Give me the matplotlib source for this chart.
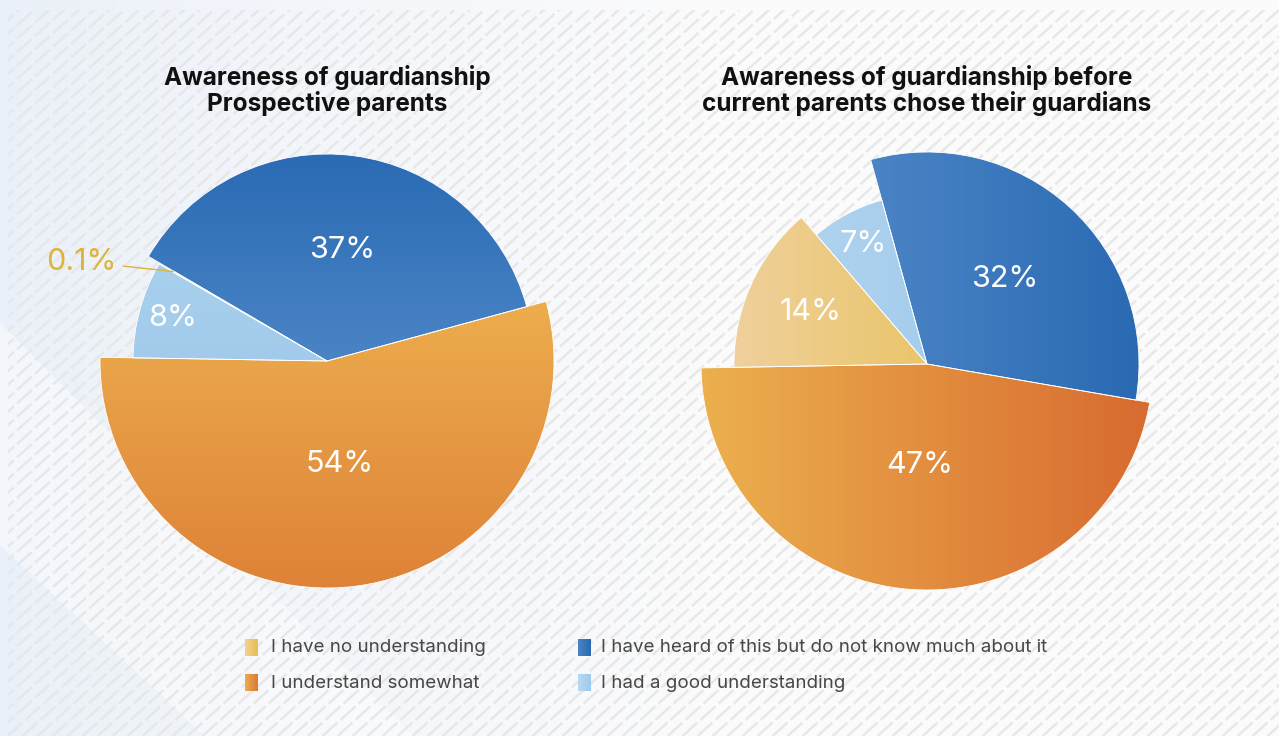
import numpy as np
import matplotlib
matplotlib.use("Agg")
import matplotlib.pyplot as plt
from matplotlib.collections import LineCollection
from matplotlib.colors import to_rgb
from matplotlib.patches import Polygon, Rectangle

plt.rcParams["font.family"] = ["Inter", "DejaVu Sans"]

W, H = 1279, 736

# ---- data ----
categories = [
    "I have no understanding",
    "I understand somewhat",
    "I have heard of this but do not know much about it",
    "I had a good understanding",
]
prospective = [0.1, 54, 37, 8]
current = [14, 47, 32, 7]
titles = [
    "Awareness of guardianship\nProspective parents",
    "Awareness of guardianship before\ncurrent parents chose their guardians",
]

# ---- styling per pie (pixel units, y measured from the top) ----
charts = [
    dict(values=prospective, center=(327, 361), start=150, order=[0, 2, 1, 3],
         radii=[178, 227, 207, 194], label_r=[None, 104, 112, 160],
         fills=[("#e9c45c", "#e6c055", "h"), ("#edad4d", "#de8238", "v"),
                ("#2a6bb4", "#4a84c5", "v"), ("#a8d0ee", "#a2caea", "v")]),
    dict(values=current, center=(927, 364), start=181, order=[0, 3, 2, 1],
         radii=[193, 226, 212, 170], label_r=[128, 101, 115, 136],
         fills=[("#f0d09c", "#e9c56a", "h"), ("#ecb04e", "#d86b30", "h"),
                ("#4a84c5", "#2a6ab3", "h"), ("#afd3ef", "#a5cdec", "h")]),
]
legend_fills = [("#f1d198", "#e8bf4f"), ("#ecab4c", "#dc7a36"),
                ("#4a84c5", "#2a69b2"), ("#b8d9f1", "#9fcaec")]


def Y(y):
    return H - y


def gradient(c0, c1, direction, n=256):
    a, b = np.array(to_rgb(c0)), np.array(to_rgb(c1))
    t = np.linspace(0, 1, n)[:, None]
    g = a + (b - a) * t
    if direction == "h":
        return g[None, :, :]
    return g[:, None, :]


fig = plt.figure(figsize=(W / 100, H / 100), dpi=100)
ax = fig.add_axes([0, 0, 1, 1])

# background wash
xs = np.clip(np.linspace(0, 1, W) / 0.55, 0, 1) ** 0.8
c_left, c_right = np.array(to_rgb("#eaf0f9")), np.array(to_rgb("#fbfbfc"))
bg = c_left + (c_right - c_left) * xs[:, None]
ax.imshow(np.repeat(bg[None, :, :], 2, axis=0), extent=(0, W, 0, H),
          aspect="auto", zorder=0)
ax.add_patch(Polygon([(0, Y(323)), (413, Y(736)), (205, Y(736)), (0, Y(545))],
                     closed=True, facecolor="white", edgecolor="none",
                     alpha=0.45, zorder=0.5))

# diagonal dashed texture
ang = np.deg2rad(42)
run = H / np.tan(ang)
segs = [[(x0, 0), (x0 + run, H)] for x0 in np.arange(-run, W + 15, 15)]
hatch = LineCollection(segs, colors="#e6e6e6", linewidths=1.8,
                       linestyles=[(0, (8.0, 1.7))], alpha=0.9, zorder=1)
clip = Rectangle((8, 0), W, Y(10), transform=ax.transData)
ax.add_collection(hatch)
hatch.set_clip_path(clip)

for ch, title in zip(charts, titles):
    cx, cy = ch["center"][0], Y(ch["center"][1])
    order = ch["order"]
    vals = [ch["values"][i] for i in order]
    wedges, _ = ax.pie(vals, center=(cx, cy), radius=200, startangle=ch["start"],
                       counterclock=False, frame=True,
                       wedgeprops=dict(facecolor="none", edgecolor="white",
                                       linewidth=0.6, zorder=4))
    for w, cat in zip(wedges, order):
        w.set_radius(ch["radii"][cat])
        c0, c1, d = ch["fills"][cat]
        ext = w.get_path().get_extents()
        img = ax.imshow(gradient(c0, c1, d),
                        extent=(ext.x0, ext.x1, ext.y0, ext.y1),
                        origin="upper", aspect="auto", zorder=3,
                        interpolation="bilinear")
        img.set_clip_path(w)

        mid = np.deg2rad((w.theta1 + w.theta2) / 2)
        lr = ch["label_r"][cat]
        val = ch["values"][cat]
        text = f"{val:g}%"
        if lr is not None:
            ax.text(cx + lr * np.cos(mid), cy + lr * np.sin(mid), text,
                    ha="center", va="center", color="white", fontsize=22,
                    zorder=6)
        else:
            r = ch["radii"][cat]
            ax.annotate(text, xy=(cx + r * np.cos(mid), cy + r * np.sin(mid)),
                        xytext=(-57, 10), textcoords="offset pixels",
                        ha="right", va="center", color="#dcb43a", fontsize=22,
                        zorder=6,
                        arrowprops=dict(arrowstyle="-", color="#dcb43a",
                                        lw=1.0, shrinkA=3, shrinkB=0))

    ax.text(cx, Y(91), title, ha="center", va="center", fontsize=17.5,
            fontweight="bold", color="#111111", linespacing=1.05, zorder=6)

# legend, two columns
legend_cols = [(245, 271), (578, 601)]
legend_rows = [648, 683]
for i, (name, (c0, c1)) in enumerate(zip(categories, legend_fills)):
    col, row = divmod(i, 2)
    sx, tx = legend_cols[col]
    y = Y(legend_rows[row])
    ax.imshow(gradient(c0, c1, "h", 16), extent=(sx, sx + 13, y - 8.5, y + 8.5),
              aspect="auto", zorder=5, interpolation="bilinear")
    ax.text(tx, y, name, ha="left", va="center", fontsize=13.5,
            color="#474747", zorder=6)

ax.set_xlim(0, W)
ax.set_ylim(0, H)
ax.set_aspect("auto")
ax.axis("off")

fig.savefig("out.png", dpi=100)
